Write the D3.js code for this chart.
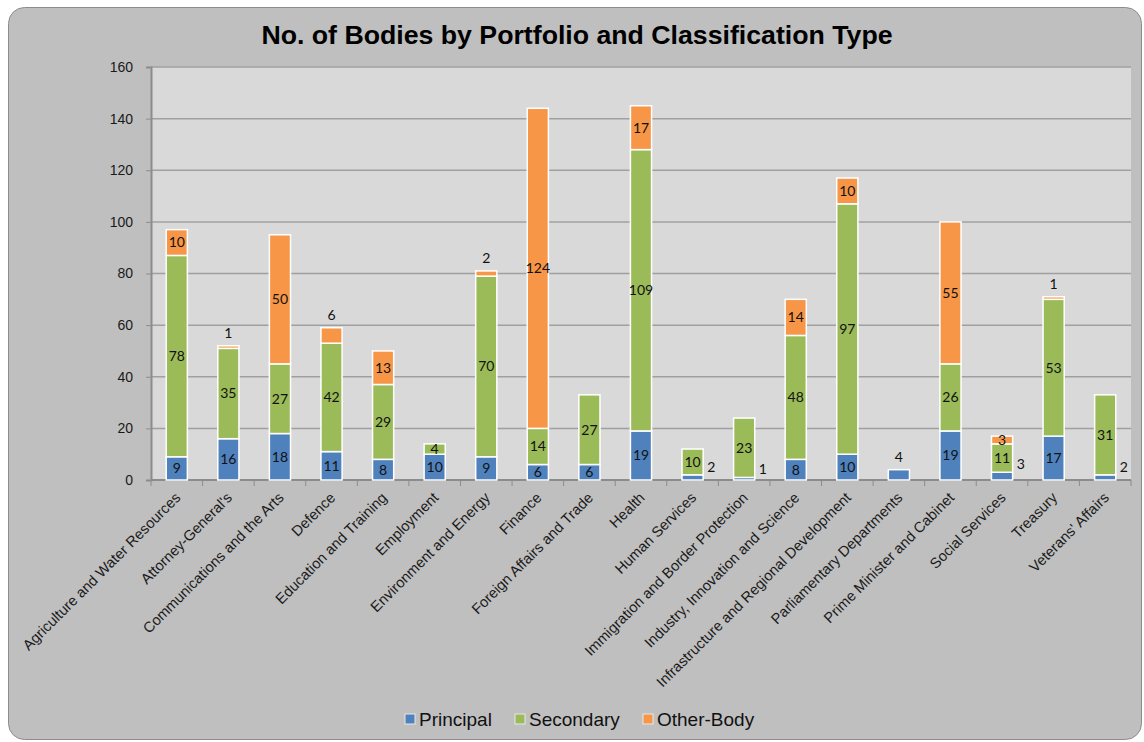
<!DOCTYPE html>
<html>
<head>
<meta charset="utf-8">
<script src="https://cdn.jsdelivr.net/npm/d3@7"></script>
<style>
  html, body { margin: 0; padding: 0; background: #fff; }
  svg { display: block; }
</style>
</head>
<body>
<svg></svg>
<script>
// ─── DATA ─────────────────────────────────────────────────────────────────────

const portfolios = [
  "Agriculture and Water Resources", "Attorney-General's",
  "Communications and the Arts", "Defence", "Education and Training",
  "Employment", "Environment and Energy", "Finance",
  "Foreign Affairs and Trade", "Health", "Human Services",
  "Immigration and Border Protection", "Industry, Innovation and Science",
  "Infrastructure and Regional Development", "Parliamentary Departments",
  "Prime Minister and Cabinet", "Social Services", "Treasury",
  "Veterans' Affairs"
];
const principal = [9, 16, 18, 11, 8, 10, 9, 6, 6, 19, 2, 1, 8, 10, 4, 19, 3, 17, 2];
const secondary = [78, 35, 27, 42, 29, 4, 70, 14, 27, 109, 10, 23, 48, 97, 0, 26, 11, 53, 31];
const otherBody = [10, 1, 50, 6, 13, 0, 2, 124, 0, 17, 0, 0, 14, 10, 0, 55, 3, 1, 0];
const seriesNames = ["Principal", "Secondary", "Other-Body"];
const yTicks = [0, 20, 40, 60, 80, 100, 120, 140, 160];

// labels that sit outside their segment (as in the original)
const labelsRight = new Set(["Principal|Human Services", "Principal|Immigration and Border Protection",
  "Principal|Social Services", "Principal|Veterans' Affairs"]);
const labelsAbove = new Set(["Principal|Parliamentary Departments", "Other-Body|Attorney-General's",
  "Other-Body|Defence", "Other-Body|Environment and Energy", "Other-Body|Treasury"]);

// ─── DIMENSIONS ───────────────────────────────────────────────────────────────

const width = 1144, height = 742;
const plot = { left: 151, right: 1131, top: 67, bottom: 480 };
const colors = ["#4f81bd", "#9bbb59", "#f79646"];

const svg = d3.select("svg").attr("width", width).attr("height", height);

// outer chart frame
svg.append("rect")
  .attr("x", 8.5).attr("y", 7.5)
  .attr("width", 1133).attr("height", 732)
  .attr("rx", 16)
  .attr("fill", "#bfbfbf")
  .attr("stroke", "#8c8c8c");

svg.append("text")
  .attr("x", 577).attr("y", 44)
  .attr("text-anchor", "middle")
  .attr("font-family", "Liberation Sans, Arial, sans-serif")
  .attr("font-weight", "bold")
  .attr("font-size", 26.7)
  .text("No. of Bodies by Portfolio and Classification Type");

// ─── SCALES ───────────────────────────────────────────────────────────────────

const x = d3.scaleBand()
  .domain(portfolios)
  .range([plot.left, plot.right])
  .paddingInner(0.59)
  .paddingOuter(0.295);

const y = d3.scaleLinear().domain([0, 160]).range([plot.bottom, plot.top]);

svg.append("rect")
  .attr("x", plot.left).attr("y", plot.top)
  .attr("width", plot.right - plot.left).attr("height", plot.bottom - plot.top)
  .attr("fill", "#d9d9d9");

// gridlines
svg.append("g")
  .selectAll("line")
  .data(yTicks.filter((d) => d > 0))
  .join("line")
  .attr("x1", plot.left).attr("x2", plot.right)
  .attr("y1", (d) => y(d)).attr("y2", (d) => y(d))
  .attr("stroke", "#a0a0a0")
  .attr("stroke-width", 1.5);

// ─── AXES ─────────────────────────────────────────────────────────────────────

const yAxis = svg.append("g")
  .attr("transform", `translate(${plot.left},0)`)
  .call(d3.axisLeft(y).tickValues(yTicks).tickSize(5).tickPadding(13));
yAxis.select(".domain").attr("stroke", "#8c8c8c").attr("stroke-width", 2);
yAxis.selectAll(".tick line").attr("stroke", "#8c8c8c");
yAxis.selectAll("text")
  .attr("font-family", "Liberation Sans, Arial, sans-serif")
  .attr("font-size", 14)
  .attr("fill", "#1a1a1a");

const xAxis = svg.append("g").attr("transform", `translate(0,${plot.bottom})`);
xAxis.append("line")
  .attr("x1", plot.left).attr("x2", plot.right)
  .attr("stroke", "#8c8c8c").attr("stroke-width", 2);
xAxis.selectAll("line.tick")
  .data(d3.range(portfolios.length + 1))
  .join("line")
  .attr("class", "tick")
  .attr("x1", (i) => plot.left + i * x.step())
  .attr("x2", (i) => plot.left + i * x.step())
  .attr("y1", 0).attr("y2", 6)
  .attr("stroke", "#8c8c8c");
xAxis.selectAll("text")
  .data(portfolios)
  .join("text")
  .attr("transform", (d) => `translate(${x(d) + x.bandwidth() / 2 + 1},${15}) rotate(-45)`)
  .attr("text-anchor", "end")
  .attr("dy", "0.35em")
  .attr("font-family", "Liberation Sans, Arial, sans-serif")
  .attr("font-size", 14.7)
  .attr("fill", "#1a1a1a")
  .text((d) => d);

// ─── STACKED BARS ─────────────────────────────────────────────────────────────

const table = portfolios.map((p, i) => ({
  portfolio: p,
  Principal: principal[i],
  Secondary: secondary[i],
  "Other-Body": otherBody[i]
}));

const stacked = d3.stack().keys(seriesNames)(table);

const layer = svg.append("g")
  .selectAll("g")
  .data(stacked)
  .join("g")
  .attr("fill", (d, i) => colors[i]);

layer.selectAll("rect")
  .data((d) => d.filter((s) => s[1] > s[0]))
  .join("rect")
  .attr("x", (d) => x(d.data.portfolio))
  .attr("y", (d) => y(d[1]))
  .attr("width", x.bandwidth())
  .attr("height", (d) => y(d[0]) - y(d[1]))
  .attr("stroke", "#ffffff")
  .attr("stroke-width", 1.5);

// data labels
const labels = [];
stacked.forEach((s) => {
  s.forEach((d) => {
    const v = d[1] - d[0];
    if (v <= 0) return;
    const key = s.key + "|" + d.data.portfolio;
    const cx = x(d.data.portfolio) + x.bandwidth() / 2;
    let lx = cx, ly = y((d[0] + d[1]) / 2), anchor = "middle";
    if (labelsRight.has(key)) {
      lx = x(d.data.portfolio) + x.bandwidth() + 4;
      ly = y(d[1]) - 8;
      anchor = "start";
    } else if (labelsAbove.has(key)) {
      ly = y(d[1]) - 13;
    }
    labels.push({ v, lx, ly, anchor });
  });
});

svg.append("g")
  .selectAll("text")
  .data(labels)
  .join("text")
  .attr("x", (d) => d.lx)
  .attr("y", (d) => d.ly)
  .attr("dy", "0.35em")
  .attr("text-anchor", (d) => d.anchor)
  .attr("font-family", "Lato, Open Sans, sans-serif")
  .attr("font-size", 14)
  .attr("fill", "#111")
  .text((d) => d.v);

// ─── LEGEND ───────────────────────────────────────────────────────────────────

const legendX = [405, 515, 643];
const legend = svg.append("g")
  .selectAll("g")
  .data(seriesNames)
  .join("g")
  .attr("transform", (d, i) => `translate(${legendX[i]},719)`);

legend.append("rect")
  .attr("x", 0).attr("y", -5)
  .attr("width", 10).attr("height", 10)
  .attr("fill", (d, i) => colors[i])
  .attr("stroke", "#e8e8e8")
  .attr("stroke-width", 1);

legend.append("text")
  .attr("x", 14)
  .attr("dy", "0.35em")
  .attr("font-family", "Liberation Sans, Arial, sans-serif")
  .attr("font-size", 19)
  .attr("fill", "#111")
  .text((d) => d);
</script>
</body>
</html>
